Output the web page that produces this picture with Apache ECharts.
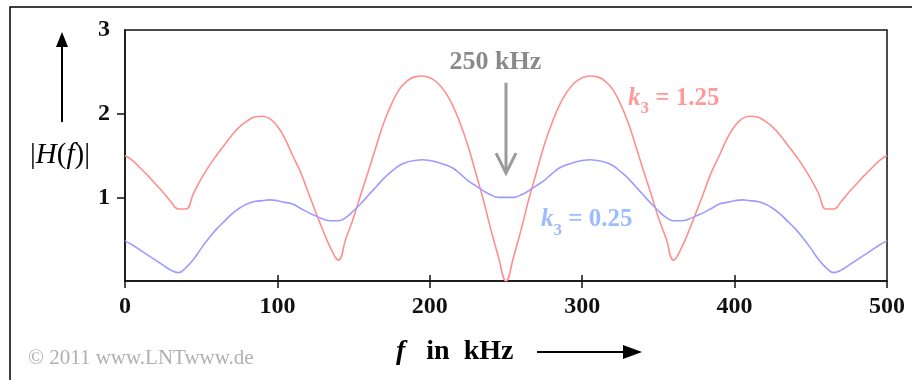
<!DOCTYPE html>
<html>
<head>
<meta charset="utf-8">
<script src="https://cdn.jsdelivr.net/npm/echarts@6/dist/echarts.min.js"></script>
<style>
  html, body { margin: 0; padding: 0; background: #fff; }
  #main { width: 912px; height: 380px; }
</style>
</head>
<body>
<div id="main"></div>
<script>
// Frequenzraster in kHz
const freqs = [
  0, 5, 10, 15, 20, 25, 30, 35, 40, 45, 50, 55, 60, 65, 70, 75, 80, 85, 90, 95,
  100, 105, 110, 115, 120, 125, 130, 135, 140, 145, 150, 155, 160, 165, 170, 175, 180, 185, 190, 195,
  200, 205, 210, 215, 220, 225, 230, 235, 240, 245, 250, 255, 260, 265, 270, 275, 280, 285, 290, 295,
  300, 305, 310, 315, 320, 325, 330, 335, 340, 345, 350, 355, 360, 365, 370, 375, 380, 385, 390, 395,
  400, 405, 410, 415, 420, 425, 430, 435, 440, 445, 450, 455, 460, 465, 470, 475, 480, 485, 490, 495,
  500
];

// |H(f)| fuer k3 = 1.25 (rot)
const hK125 = [
  1.50, 1.44, 1.35, 1.26, 1.16, 1.06, 0.95, 0.86, 0.86, 1.05, 1.22, 1.37, 1.50, 1.62, 1.74, 1.84, 1.91, 1.96, 1.97, 1.94,
  1.85, 1.70, 1.50, 1.31, 1.07, 0.83, 0.60, 0.39, 0.25, 0.51, 0.76, 1.05, 1.33, 1.62, 1.90, 2.12, 2.29, 2.39, 2.44, 2.45,
  2.43, 2.37, 2.26, 2.10, 1.88, 1.62, 1.30, 0.98, 0.62, 0.29, 0.00, 0.29, 0.62, 0.98, 1.30, 1.62, 1.88, 2.10, 2.26, 2.37,
  2.43, 2.45, 2.44, 2.39, 2.29, 2.12, 1.90, 1.62, 1.33, 1.05, 0.76, 0.51, 0.25, 0.39, 0.60, 0.83, 1.07, 1.31, 1.50, 1.70,
  1.85, 1.94, 1.97, 1.96, 1.91, 1.84, 1.74, 1.62, 1.50, 1.37, 1.22, 1.05, 0.86, 0.86, 0.95, 1.06, 1.16, 1.26, 1.35, 1.44,
  1.50
];

// |H(f)| fuer k3 = 0.25 (blau)
const hK025 = [
  0.48, 0.43, 0.37, 0.31, 0.25, 0.19, 0.13, 0.10, 0.16, 0.26, 0.39, 0.51, 0.62, 0.71, 0.80, 0.87, 0.92, 0.95, 0.96, 0.97,
  0.96, 0.94, 0.92, 0.87, 0.82, 0.78, 0.74, 0.72, 0.72, 0.76, 0.84, 0.93, 1.03, 1.13, 1.23, 1.31, 1.38, 1.42, 1.44, 1.45,
  1.44, 1.42, 1.39, 1.35, 1.28, 1.20, 1.14, 1.08, 1.03, 1.00, 1.00, 1.00, 1.03, 1.08, 1.14, 1.20, 1.28, 1.35, 1.39, 1.42,
  1.44, 1.45, 1.44, 1.42, 1.38, 1.31, 1.23, 1.13, 1.03, 0.93, 0.84, 0.76, 0.72, 0.72, 0.74, 0.78, 0.82, 0.87, 0.92, 0.94,
  0.96, 0.97, 0.96, 0.95, 0.92, 0.87, 0.80, 0.71, 0.62, 0.51, 0.39, 0.26, 0.16, 0.10, 0.13, 0.19, 0.25, 0.31, 0.37, 0.43,
  0.48
];

const xTicks = [0, 100, 200, 300, 400, 500];
const yTickValues = [1, 2];
const yLabelValues = [1, 2, 3];

const serif = '"Liberation Serif", "Times New Roman", serif';
const axisColor = '#111';
const redColor = '#ff8f8f';
const blueColor = '#9c9cff';

const chart = echarts.init(document.getElementById('main'), null, { renderer: 'canvas' });

const zip = (xs, ys) => xs.map((x, i) => [x, ys[i]]);

const tickLabel = {
  color: axisColor,
  fontFamily: serif,
  fontWeight: 'bold',
  fontSize: 24
};

const option = {
  animation: false,
  backgroundColor: '#fff',
  grid: {
    left: 125, right: 25, top: 30, bottom: 99,
    show: true, borderColor: axisColor, borderWidth: 1.5,
    backgroundColor: 'transparent'
  },
  xAxis: [
    {
      type: 'value', min: 0, max: 500, interval: 100, position: 'bottom',
      axisLine: { lineStyle: { color: axisColor, width: 1.5 } },
      axisTick: { length: 7, lineStyle: { color: axisColor, width: 1.5 } },
      axisLabel: Object.assign({ margin: 14, customValues: xTicks }, tickLabel),
      splitLine: { show: false }
    },
    {
      type: 'value', min: 0, max: 500, interval: 100, position: 'bottom',
      axisLine: { show: false },
      axisTick: { inside: true, length: 6, customValues: [100, 200, 300, 400], lineStyle: { color: axisColor, width: 1.5 } },
      axisLabel: { show: false },
      splitLine: { show: false }
    }
  ],
  yAxis: {
    type: 'value', min: 0, max: 3, interval: 1,
    axisLine: { show: true, lineStyle: { color: axisColor, width: 1.5 } },
    axisTick: { show: true, length: 8, customValues: yTickValues, lineStyle: { color: axisColor, width: 1.5 } },
    axisLabel: Object.assign({ margin: 15, customValues: yLabelValues }, tickLabel),
    splitLine: { show: false }
  },
  series: [
    {
      name: 'k3 = 1.25', type: 'line', data: zip(freqs, hK125),
      showSymbol: false, smooth: 0.45,
      lineStyle: { color: redColor, width: 1.6 }
    },
    {
      name: 'k3 = 0.25', type: 'line', data: zip(freqs, hK025),
      showSymbol: false, smooth: 0.45,
      lineStyle: { color: blueColor, width: 1.6 }
    }
  ]
};

chart.setOption(option);

// Beschriftungen im Diagramm an Datenkoordinaten
const px = (f, v) => chart.convertToPixel({ gridIndex: 0 }, [f, v]);

const labelK = (text, color) => ({
  text: '{k|k}{s|3}{t| = ' + text + '}',
  fill: color,
  rich: {
    k: { fontFamily: serif, fontStyle: 'italic', fontWeight: 'bold', fontSize: 25, fill: color, lineHeight: 26, verticalAlign: 'top' },
    s: { fontFamily: serif, fontWeight: 'bold', fontSize: 17, fill: color, lineHeight: 32, verticalAlign: 'bottom' },
    t: { fontFamily: serif, fontWeight: 'bold', fontSize: 25, fill: color, lineHeight: 26, verticalAlign: 'top' }
  }
});

const pLabel250 = px(243, 2.62);
const pArrowTop = px(250, 2.37);
const pArrowTip = px(250, 1.29);
const pRed = px(330, 2.18);
const pBlue = px(273, 0.73);

chart.setOption({
  graphic: [
    // aeusserer Rahmen
    { type: 'rect', shape: { x: 10, y: 7, width: 940, height: 420 }, style: { fill: 'none', stroke: '#000', lineWidth: 1.5 }, silent: true },
    // Pfeil an der y-Achse
    { type: 'line', shape: { x1: 62, y1: 122, x2: 62, y2: 44 }, style: { stroke: '#000', lineWidth: 2 } },
    { type: 'polygon', shape: { points: [[56, 47], [68, 47], [62, 32]] }, style: { fill: '#000' } },
    {
      type: 'text', x: 60, y: 155,
      style: {
        text: '{n||}{i|H}{n|(}{i|f}{n|)|}',
        align: 'center', verticalAlign: 'middle',
        rich: {
          n: { fontFamily: serif, fontSize: 29, fill: '#000' },
          i: { fontFamily: serif, fontSize: 29, fontStyle: 'italic', fill: '#000' }
        }
      }
    },
    // x-Achsentitel
    {
      type: 'text', x: 396, y: 352,
      style: {
        text: '{i|f}{n|   in  kHz}',
        align: 'left', verticalAlign: 'middle',
        rich: {
          i: { fontFamily: serif, fontSize: 28, fontStyle: 'italic', fontWeight: 'bold', fill: '#000' },
          n: { fontFamily: serif, fontSize: 28, fontWeight: 'bold', fill: '#000' }
        }
      }
    },
    { type: 'line', shape: { x1: 537, y1: 352, x2: 626, y2: 352 }, style: { stroke: '#000', lineWidth: 2 } },
    { type: 'polygon', shape: { points: [[623, 345], [623, 359], [642, 352]] }, style: { fill: '#000' } },
    // Copyright
    {
      type: 'text', x: 28, y: 358,
      style: { text: '\u00a9 2011 www.LNTwww.de', fontFamily: serif, fontSize: 21, fill: '#b0b0b0', align: 'left', verticalAlign: 'middle' }
    },
    // 250 kHz Markierung
    {
      type: 'text', x: pLabel250[0], y: pLabel250[1],
      style: { text: '250 kHz', fontFamily: serif, fontWeight: 'bold', fontSize: 26, fill: '#8a8a8a', align: 'center', verticalAlign: 'middle' }
    },
    { type: 'line', shape: { x1: pArrowTop[0], y1: pArrowTop[1], x2: pArrowTip[0], y2: pArrowTip[1] - 1 }, style: { stroke: '#9a9a9a', lineWidth: 3 } },
    {
      type: 'polyline',
      shape: { points: [[pArrowTip[0] - 10, pArrowTip[1] - 20], [pArrowTip[0], pArrowTip[1]], [pArrowTip[0] + 10, pArrowTip[1] - 20]] },
      style: { stroke: '#9a9a9a', lineWidth: 3, fill: 'none', lineJoin: 'miter' }
    },
    // Kurvenbeschriftungen
    { type: 'text', x: pRed[0], y: pRed[1] - 13, style: Object.assign({ align: 'left', verticalAlign: 'top' }, labelK('1.25', '#ff9a9a')) },
    { type: 'text', x: pBlue[0], y: pBlue[1] - 13, style: Object.assign({ align: 'left', verticalAlign: 'top' }, labelK('0.25', '#9dbcff')) }
  ]
});
</script>
</body>
</html>
